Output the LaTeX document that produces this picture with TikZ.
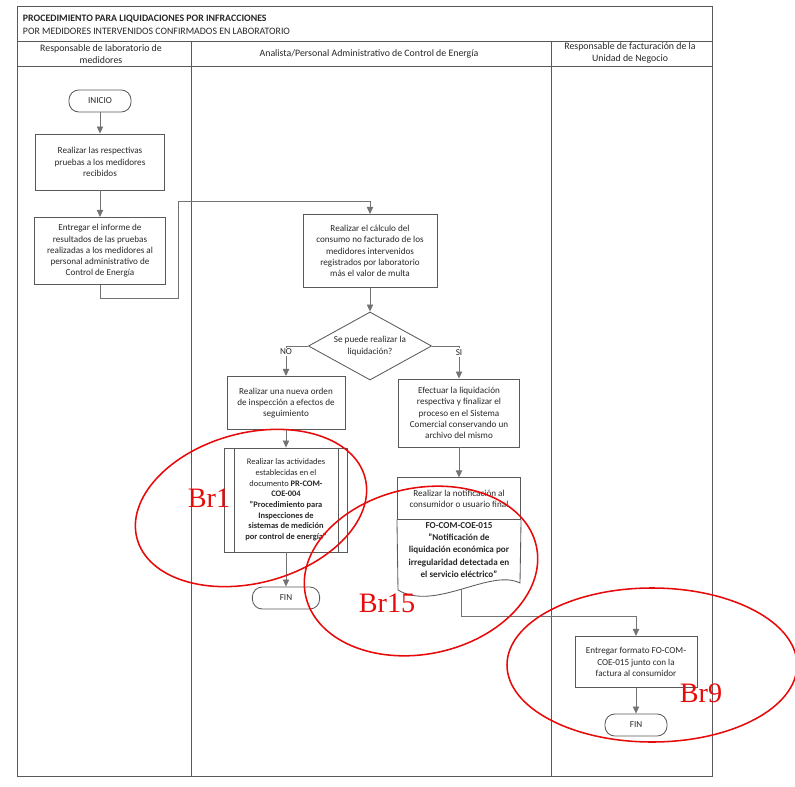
\documentclass[tikz,border=0pt]{standalone}
\usepackage{fontspec}
\setmainfont{Carlito}
\newfontfamily\annotfont{Liberation Serif}
\usetikzlibrary{shapes.geometric,arrows.meta}
\definecolor{boxgray}{gray}{0.35}
\definecolor{linegray}{gray}{0.45}
\definecolor{inkgray}{gray}{0.15}
\definecolor{markred}{RGB}{230,10,10}
\tikzset{
    txt/.style={font=\fontsize{6.5}{8}\selectfont, text=inkgray, align=center},
    head/.style={txt, font=\fontsize{7}{9}\selectfont},
    proc/.style={txt, draw=boxgray, line width=0.6pt, inner sep=1pt},
    term/.style={txt, draw=boxgray, line width=0.6pt, rounded corners=7pt, minimum height=0.55cm},
    decis/.style={txt, draw=boxgray, line width=0.6pt, diamond, aspect=1.8, inner sep=0pt},
    flow/.style={draw=linegray, line width=0.6pt, -{Triangle[length=5pt,width=4.5pt]}},
    lbl/.style={txt, fill=white, inner sep=0.8pt},
    lane/.style={draw=boxgray, line width=0.6pt},
    ring/.style={draw=markred, line width=1.1pt},
    tag/.style={font=\annotfont\fontsize{20}{20}\selectfont, text=markred, inner sep=0pt}
}
\begin{document}
\begin{tikzpicture}[x=0.025cm, y=-0.025cm]
            \useasboundingbox (0,0) rectangle (795,787);

            \draw[lane] (17,6) rectangle (712,776);
            \draw[lane] (17,41) -- (712,41);
            \draw[lane] (17,66) -- (712,66);
            \draw[lane] (191,41) -- (191,776);
            \draw[lane] (551,41) -- (551,776);

            \node[anchor=west, text=inkgray, font=\bfseries\fontsize{7}{8}\selectfont] (title) at (18,19) {PROCEDIMIENTO PARA LIQUIDACIONES POR INFRACCIONES};
            \node[anchor=west, text=inkgray, font=\fontsize{7}{8}\selectfont] (subtitle) at (18,31) {POR MEDIDORES INTERVENIDOS CONFIRMADOS EN LABORATORIO};

            \node[head] (lab) at (101,54) {Responsable de laboratorio de\\medidores};
            \node[head] (analista) at (369,54) {Analista/Personal Administrativo de Control de Energía};
            \node[head] (factura) at (630,53) {Responsable de facturación de la\\Unidad de Negocio};

            \node[term, minimum width=1.55cm] (inicio) at (100,101) {INICIO};
            \node[proc, minimum width=3.22cm, minimum height=1.4cm] (pruebas) at (100,162) {Realizar las respectivas\\pruebas a los medidores\\recibidos};
            \node[proc, minimum width=3.28cm, minimum height=1.68cm] (informe) at (100,251) {Entregar el informe de\\resultados de las pruebas\\realizadas a los medidores al\\personal administrativo de\\Control de Energía};

            \node[proc, minimum width=3.35cm, minimum height=1.83cm] (calculo) at (370,251) {Realizar el cálculo del\\consumo no facturado de los\\medidores intervenidos\\registrados por laboratorio\\más el valor de multa};
            \node[decis, minimum width=3.08cm, minimum height=1.7cm] (liquida) at (370,346) {Se puede realizar la\\liquidación?};

            \node[proc, minimum width=2.95cm, minimum height=1.33cm] (orden) at (286,403) {Realizar una nueva orden\\de inspección a efectos de\\seguimiento};
            \node[proc, minimum width=3.08cm, minimum height=2.6cm, font=\fontsize{6}{7.6}\selectfont] (activ) at (286,500) {Realizar las actividades\\establecidas en el\\documento \textbf{PR-COM-}\\\textbf{COE-004}\\\textbf{"Procedimiento para}\\\textbf{Inspecciones de}\\\textbf{sistemas de medición}\\\textbf{por control de energía"}};
            \draw[lane] ([xshift=0.25cm]activ.north west) -- ([xshift=0.25cm]activ.south west);
            \draw[lane] ([xshift=-0.25cm]activ.north east) -- ([xshift=-0.25cm]activ.south east);
            \node[term, minimum width=1.68cm] (fin1) at (286,598) {FIN};

            \node[proc, minimum width=3.03cm, minimum height=1.7cm] (efectuar) at (459,413) {Efectuar la liquidación\\respectiva y finalizar el\\proceso en el Sistema\\Comercial conservando un\\archivo del mismo};
            \node[proc, minimum width=3.08cm, minimum height=1.03cm] (notif) at (459,498.5) {Realizar la notificación al\\consumidor o usuario final};
            \node[txt, font=\bfseries\fontsize{6.5}{8.6}\selectfont] (formato) at (459,550) {FO-COM-COE-015\\"Notificación de\\liquidación económica por\\irregularidad detectada en\\el servicio eléctrico"};
            \draw[lane] (notif.south west) -- (398,590) .. controls (435,612) and (490,568) .. coordinate[pos=0.5] (docend) (520,583) -- (notif.south east);

            \node[proc, minimum width=3.05cm, minimum height=1.28cm] (entrega) at (636,662) {Entregar formato FO-COM-\\COE-015 junto con la\\factura al consumidor};
            \node[term, minimum width=1.55cm] (fin2) at (636,725) {FIN};

            \coordinate (lift) at (178,201);
            \path (entrega.north) ++(0,-20) coordinate (drop);

            \draw[flow] (inicio) -- (pruebas);
            \draw[flow] (pruebas) -- (informe);
            \draw[flow] (informe.south) -- ++(0,13) -| (lift) -| (calculo.north);
            \draw[flow] (calculo) -- (liquida);
            \draw[flow] (liquida.west) -| node[lbl, pos=0.6] {NO} (orden.north);
            \draw[flow] (liquida.east) -| node[lbl, pos=0.6] {SI} (efectuar.north);
            \draw[flow] (orden) -- (activ);
            \draw[flow] (activ) -- (fin1);
            \draw[flow] (efectuar) -- (notif);
            \draw[flow] (docend) |- (drop) -- (entrega.north);
            \draw[flow] (entrega) -- (fin2);

            \draw[ring, rotate around={15:(251,508)}] (251,508) ellipse [x radius=118, y radius=75];
            \draw[ring, rotate around={12:(421,571)}] (421,571) ellipse [x radius=118, y radius=83];
            \draw[ring] (652,665) ellipse [x radius=145, y radius=77];
            \node[tag] (br1) at (209,498) {Br1};
            \node[tag] (br15) at (387,603) {Br15};
            \node[tag] (br9) at (701,693) {Br9};
        \end{tikzpicture}
\end{document}
